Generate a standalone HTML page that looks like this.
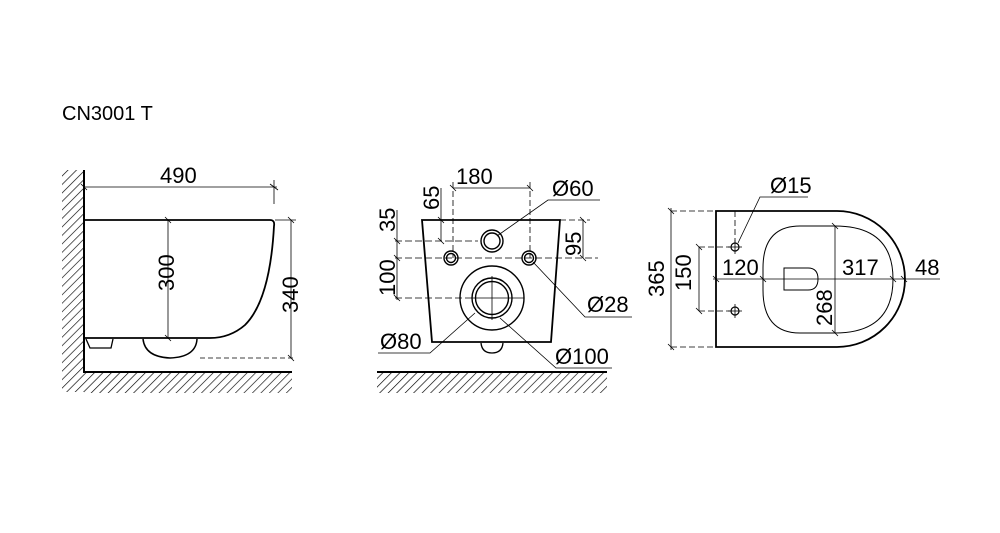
<!DOCTYPE html>
<html><head><style>
html,body{margin:0;padding:0;background:#fff;}
svg{display:block;}
text{font-family:"Liberation Sans",sans-serif;fill:#000;}
</style></head><body>
<svg width="1000" height="533" viewBox="0 0 1000 533" xmlns="http://www.w3.org/2000/svg">
<defs>
<pattern id="h" width="6" height="6" patternUnits="userSpaceOnUse" patternTransform="rotate(45)">
<line x1="0" y1="0" x2="0" y2="6" stroke="#000" stroke-width="1.3"/>
</pattern>
</defs>
<text x="62" y="120" font-size="20">CN3001 T</text>

<!-- SIDE VIEW -->
<rect x="62" y="170" width="22" height="222" fill="url(#h)"/>
<rect x="84" y="373" width="208" height="20" fill="url(#h)"/>
<path d="M84 170 V372 H292" fill="none" stroke="#000" stroke-width="2"/>
<path d="M84 220 H270 Q275 220 274 226 Q270 300 245 325 Q230 338 210 338 H84" fill="none" stroke="#000" stroke-width="1.8"/>
<path d="M86 339 L90 348 H111 L113 339" fill="none" stroke="#000" stroke-width="1.3"/>
<path d="M143 339 Q145 357 170 358 Q196 357 197 339" fill="none" stroke="#000" stroke-width="1.5"/>
<g stroke="#000" stroke-width="0.8" fill="none">
<line x1="84" y1="187" x2="277" y2="187"/><line x1="274" y1="180" x2="274" y2="204"/>
<line x1="270" y1="184" x2="278" y2="190"/><line x1="81" y1="184" x2="87" y2="190"/>
<line x1="168" y1="220" x2="168" y2="338"/><line x1="165" y1="217" x2="171" y2="223"/><line x1="165" y1="335" x2="171" y2="341"/>
<line x1="291" y1="220" x2="291" y2="358"/><line x1="275" y1="220" x2="296" y2="220"/>
<line x1="288" y1="217" x2="294" y2="223"/><line x1="288" y1="355" x2="294" y2="361"/>
<line x1="200" y1="358" x2="294" y2="358" stroke-dasharray="5,3"/>
</g>
<text x="160" y="183" font-size="22">490</text>
<text transform="translate(174,291) rotate(-90)" font-size="22">300</text>
<text transform="translate(298,313) rotate(-90)" font-size="22">340</text>

<!-- FRONT VIEW -->
<rect x="377" y="373" width="230" height="20" fill="url(#h)"/>
<line x1="377" y1="372" x2="607" y2="372" stroke="#000" stroke-width="2"/>
<path d="M422 220 H560 L551 342 H432 Z" fill="none" stroke="#000" stroke-width="1.8"/>
<path d="M481 343 Q482 353 492 353 Q502 353 503 343" fill="none" stroke="#000" stroke-width="1.3"/>
<g fill="none" stroke="#000" stroke-width="1.4">
<circle cx="492" cy="241" r="11"/><circle cx="492" cy="241" r="8"/>
<circle cx="451" cy="258" r="7"/><circle cx="451" cy="258" r="4.5"/>
<circle cx="529" cy="258" r="7"/><circle cx="529" cy="258" r="4.5"/>
<circle cx="492" cy="298" r="32"/><circle cx="492" cy="298" r="20"/><circle cx="492" cy="298" r="16.5"/>
</g>
<g stroke="#000" stroke-width="0.8" fill="none">
<line x1="395" y1="241" x2="478" y2="241" stroke-dasharray="7,3"/>
<line x1="395" y1="258" x2="598" y2="258" stroke-dasharray="7,3"/>
<line x1="395" y1="298" x2="470" y2="298" stroke-dasharray="7,3"/>
<line x1="470" y1="298" x2="524" y2="298"/><line x1="492" y1="276" x2="492" y2="320"/>
<line x1="453" y1="182" x2="453" y2="258" stroke-dasharray="6,3"/>
<line x1="530" y1="182" x2="530" y2="258" stroke-dasharray="6,3"/>
<line x1="453" y1="188" x2="530" y2="188"/><line x1="450" y1="185" x2="456" y2="191"/><line x1="527" y1="185" x2="533" y2="191"/>
<line x1="441" y1="188" x2="441" y2="241"/><line x1="438" y1="217" x2="444" y2="223"/><line x1="438" y1="238" x2="444" y2="244"/>
<line x1="397" y1="210" x2="397" y2="300"/><line x1="394" y1="238" x2="400" y2="244"/><line x1="394" y1="255" x2="400" y2="261"/><line x1="394" y1="295" x2="400" y2="301"/>
<line x1="560" y1="220" x2="590" y2="220" stroke-dasharray="6,3"/>
<line x1="583" y1="220" x2="583" y2="258"/><line x1="580" y1="217" x2="586" y2="223"/><line x1="580" y1="255" x2="586" y2="261"/>
<polyline points="497,236 548,200 600,200"/>
<polyline points="533,262 585,317 632,317"/>
<polyline points="475,313 430,353 378,353"/>
<polyline points="500,318 556,368 612,368"/>
</g>
<text x="456" y="184" font-size="22">180</text>
<text transform="translate(439,210) rotate(-90)" font-size="22">65</text>
<text transform="translate(395,232) rotate(-90)" font-size="22">35</text>
<text transform="translate(395,296) rotate(-90)" font-size="22">100</text>
<text transform="translate(581,256) rotate(-90)" font-size="22">95</text>
<text x="552" y="196" font-size="22">Ø60</text>
<text x="587" y="312" font-size="22">Ø28</text>
<text x="380" y="349" font-size="22">Ø80</text>
<text x="555" y="364" font-size="22">Ø100</text>

<!-- TOP VIEW -->
<path d="M716 211 H837 A68 68 0 0 1 837 347 H716 Z" fill="none" stroke="#000" stroke-width="1.8"/>
<path d="M800 226 H835 Q893 226 893 279 Q893 333 835 333 H800 Q763 333 763 290 V268 Q763 226 800 226 Z" fill="none" stroke="#000" stroke-width="1"/>
<path d="M784 268 H808 Q818 268 818 279 Q818 290 808 290 H784 Z" fill="none" stroke="#000" stroke-width="1"/>
<g fill="none" stroke="#000" stroke-width="1.2">
<circle cx="735" cy="247" r="4"/><circle cx="735" cy="311" r="4"/>
</g>
<g stroke="#000" stroke-width="0.8" fill="none">
<line x1="728" y1="247" x2="742" y2="247"/><line x1="735" y1="240" x2="735" y2="254"/>
<line x1="728" y1="311" x2="742" y2="311"/><line x1="735" y1="304" x2="735" y2="318"/>
<line x1="671" y1="211" x2="716" y2="211" stroke-dasharray="6,3"/>
<line x1="671" y1="347" x2="716" y2="347" stroke-dasharray="6,3"/>
<line x1="671" y1="208" x2="671" y2="350"/><line x1="668" y1="208" x2="674" y2="214"/><line x1="668" y1="344" x2="674" y2="350"/>
<line x1="699" y1="247" x2="730" y2="247" stroke-dasharray="6,3"/>
<line x1="699" y1="311" x2="730" y2="311" stroke-dasharray="6,3"/>
<line x1="699" y1="247" x2="699" y2="311"/><line x1="696" y1="244" x2="702" y2="250"/><line x1="696" y1="308" x2="702" y2="314"/>
<line x1="735" y1="211" x2="735" y2="243" stroke-dasharray="6,3"/>
<polyline points="738,243 760,197 808,197"/>
<line x1="713" y1="279" x2="940" y2="279"/>
<line x1="713" y1="276" x2="719" y2="282"/><line x1="760" y1="276" x2="766" y2="282"/><line x1="890" y1="276" x2="896" y2="282"/><line x1="901" y1="276" x2="907" y2="282"/>
<line x1="835" y1="226" x2="835" y2="333"/><line x1="832" y1="223" x2="838" y2="229"/><line x1="832" y1="330" x2="838" y2="336"/>
</g>
<text x="770" y="193" font-size="22">Ø15</text>
<text x="722" y="275" font-size="22">120</text>
<text x="842" y="275" font-size="22">317</text>
<text x="915" y="275" font-size="22">48</text>
<text transform="translate(691,291) rotate(-90)" font-size="22">150</text>
<text transform="translate(664,297) rotate(-90)" font-size="22">365</text>
<text transform="translate(832,326) rotate(-90)" font-size="22">268</text>
</svg>
</body></html>
